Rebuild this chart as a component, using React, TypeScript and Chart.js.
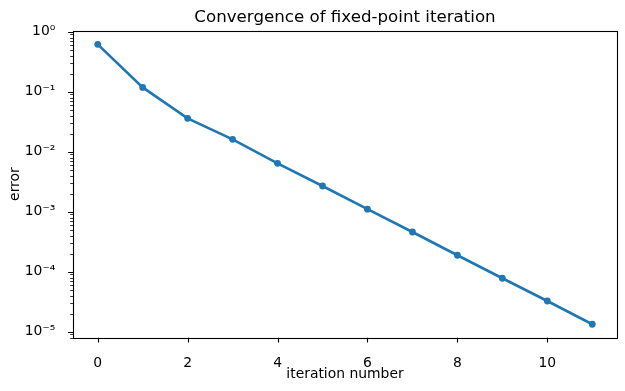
import React, { useEffect, useRef } from "react";
import { Chart, registerables } from "chart.js";

Chart.register(...registerables);

const iterations = [0, 1, 2, 3, 4, 5, 6, 7, 8, 9, 10, 11];
const errors = [
  0.616, 0.118, 0.036, 0.0161, 0.00641, 0.00268, 0.0011, 0.000459, 0.000188,
  0.0000777, 0.0000325, 0.0000133,
];
const xTickValues = [0, 2, 4, 6, 8, 10];
const yTickValues = [1, 1e-1, 1e-2, 1e-3, 1e-4, 1e-5];
const yTickLabels = ["10⁰", "10⁻¹", "10⁻²", "10⁻³", "10⁻⁴", "10⁻⁵"];
const chartTitle = "Convergence of fixed-point iteration";

const X_MIN = -0.55;
const X_MAX = 11.55;
const Y_MIN = Math.pow(10, -5.1);
const Y_MAX = Math.pow(10, 0.02);

const FONT = "'DejaVu Sans', sans-serif";

const framePlugin = {
  id: "frame",
  afterDraw(chart: any) {
    const { ctx, chartArea } = chart;
    const { left, right, top, bottom } = chartArea;
    const xs = chart.scales.x;
    const ys = chart.scales.y;
    ctx.save();
    ctx.strokeStyle = "#000";
    // major ticks
    ctx.lineWidth = 1.1;
    ctx.beginPath();
    xTickValues.forEach((v) => {
      const px = Math.round(xs.getPixelForValue(v)) + 0.5;
      ctx.moveTo(px, bottom);
      ctx.lineTo(px, bottom + 4.9);
    });
    yTickValues.forEach((v) => {
      const py = Math.round(ys.getPixelForValue(v)) + 0.5;
      ctx.moveTo(left, py);
      ctx.lineTo(left - 4.9, py);
    });
    ctx.stroke();
    // minor ticks on log axis
    ctx.lineWidth = 0.8;
    ctx.beginPath();
    for (let e = -6; e <= 0; e++) {
      for (let m = 2; m <= 9; m++) {
        const v = m * Math.pow(10, e);
        if (v < Y_MIN || v > Y_MAX) continue;
        const py = Math.round(ys.getPixelForValue(v)) + 0.5;
        ctx.moveTo(left, py);
        ctx.lineTo(left - 2.8, py);
      }
    }
    ctx.stroke();
    // frame
    ctx.lineWidth = 1.1;
    ctx.strokeRect(
      Math.round(left) + 0.5,
      Math.round(top) + 0.5,
      Math.round(right) - Math.round(left),
      Math.round(bottom) - Math.round(top)
    );
    // title, centred over the axes
    ctx.fillStyle = "#000";
    ctx.font = "16.67px " + FONT;
    ctx.textAlign = "center";
    ctx.textBaseline = "alphabetic";
    ctx.fillText(chartTitle, (left + right) / 2, top - 8.5);
    ctx.restore();
  },
};

export default function App() {
  const canvasRef = useRef<HTMLCanvasElement | null>(null);

  useEffect(() => {
    document.body.style.margin = "0";
    const canvas = canvasRef.current;
    if (!canvas) return;
    const chart = new Chart(canvas, {
      type: "line",
      data: {
        datasets: [
          {
            data: iterations.map((x, i) => ({ x, y: errors[i] })),
            borderColor: "#1f77b4",
            backgroundColor: "#1f77b4",
            borderWidth: 2.6,
            pointRadius: 3.4,
            pointHoverRadius: 3.4,
            pointBorderWidth: 0,
            fill: false,
            tension: 0,
          },
        ],
      },
      options: {
        responsive: false,
        animation: false,
        events: [],
        devicePixelRatio: 1,
        layout: { padding: { top: 30.5, right: 8, left: 0, bottom: 0 } },
        plugins: {
          legend: { display: false },
          tooltip: { enabled: false },
          title: { display: false },
        },
        scales: {
          x: {
            type: "linear",
            min: X_MIN,
            max: X_MAX,
            grid: { display: false },
            border: { display: false },
            afterBuildTicks: (scale: any) => {
              scale.ticks = xTickValues.map((v) => ({ value: v }));
            },
            afterFit: (scale: any) => {
              scale.height = 53.3;
            },
            ticks: {
              autoSkip: false,
              maxRotation: 0,
              padding: 9.7,
              color: "#000",
              font: { family: FONT, size: 13.9 },
              callback: (v: any) => String(v),
            },
            title: {
              display: true,
              text: "iteration number",
              color: "#000",
              font: { family: FONT, size: 13.9 },
              padding: { top: 0, bottom: 8.5 },
            },
          },
          y: {
            type: "logarithmic",
            min: Y_MIN,
            max: Y_MAX,
            grid: { display: false },
            border: { display: false },
            afterBuildTicks: (scale: any) => {
              scale.ticks = yTickValues.map((v) => ({ value: v }));
            },
            afterFit: (scale: any) => {
              scale.width = 73;
            },
            ticks: {
              autoSkip: false,
              padding: 9.7,
              color: "#000",
              font: { family: FONT, size: 13.9 },
              callback: (v: any) => {
                const idx = yTickValues.findIndex(
                  (t) => Math.abs(Math.log10(t) - Math.log10(Number(v))) < 1e-6
                );
                return idx >= 0 ? yTickLabels[idx] : "";
              },
            },
            title: {
              display: true,
              text: "error",
              color: "#000",
              font: { family: FONT, size: 13.9 },
              padding: { top: 7, bottom: 0 },
            },
          },
        },
      },
      plugins: [framePlugin],
    } as any);
    return () => chart.destroy();
  }, []);

  return (
    <div style={{ width: 625, height: 391 }}>
      <canvas ref={canvasRef} width={625} height={391} style={{ display: "block" }} />
    </div>
  );
}
